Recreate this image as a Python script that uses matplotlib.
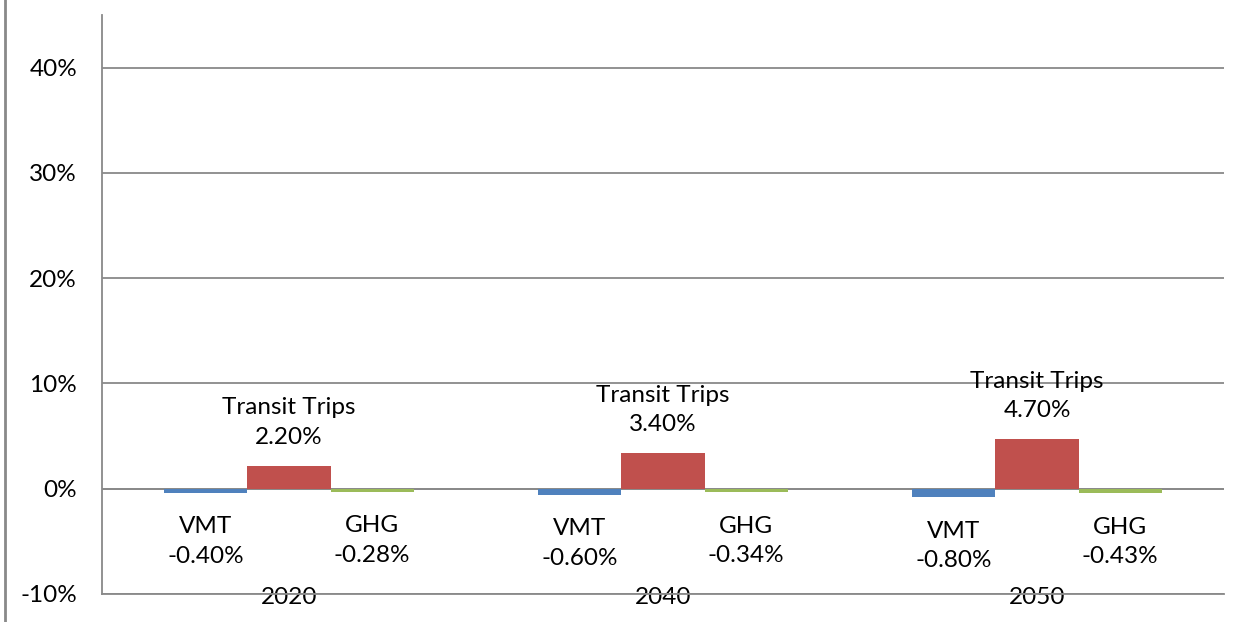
import matplotlib.pyplot as plt
import numpy as np
from matplotlib.lines import Line2D

# data
years = ['2020', '2040', '2050']
vmt = [-0.40, -0.60, -0.80]
transit = [2.20, 3.40, 4.70]
ghg = [-0.28, -0.34, -0.43]
series_names = ['VMT', 'Transit Trips', 'GHG']
y_ticks = [-10, 0, 10, 20, 30, 40]

plt.rcParams['font.family'] = ['Lato', 'DejaVu Sans']
colors = ['#4F81BD', '#C0504D', '#9BBB59']
grid_col = '#898989'
fs = 17.5

fig = plt.figure(figsize=(12.51, 6.22), dpi=100)
ax = fig.add_axes([102/1251, 28/622, (1224-102)/1251, (607-28)/622])

x = np.arange(len(years))
w = 1 / 4.5
all_series = [vmt, transit, ghg]
for i, (vals, name) in enumerate(zip(all_series, series_names)):
    pos = x + (i - 1) * w
    ax.bar(pos, vals, width=w, color=colors[i], zorder=3)
    for px, v in zip(pos, vals):
        off = 31 if v > 0 else -35
        ax.annotate(f'{name}\n{v:.2f}%', (px, v), xytext=(0, off),
                    textcoords='offset points', ha='center', va='center',
                    fontsize=fs, linespacing=1.5, zorder=5)

ax.set_xlim(-0.5, 2.5)
ax.set_ylim(-10, 45)
ax.set_yticks(y_ticks)
ax.set_yticklabels([f'{t}%' for t in y_ticks], fontsize=fs)
ax.set_xticks(x)
ax.set_xticklabels(years, fontsize=fs)
ax.tick_params(axis='both', length=0)
ax.tick_params(axis='y', pad=18)
ax.tick_params(axis='x', pad=-5)

ax.grid(axis='y', color=grid_col, linewidth=1.3, zorder=0)
for s in ['top', 'right']:
    ax.spines[s].set_visible(False)
for s in ['left', 'bottom']:
    ax.spines[s].set_color(grid_col)
    ax.spines[s].set_linewidth(1.3)
ax.axhline(0, color=grid_col, linewidth=1.3, zorder=2)

fig.add_artist(Line2D([5/1251, 5/1251], [0, 1], color=grid_col, linewidth=2))

fig.savefig('out.png', dpi=100)
